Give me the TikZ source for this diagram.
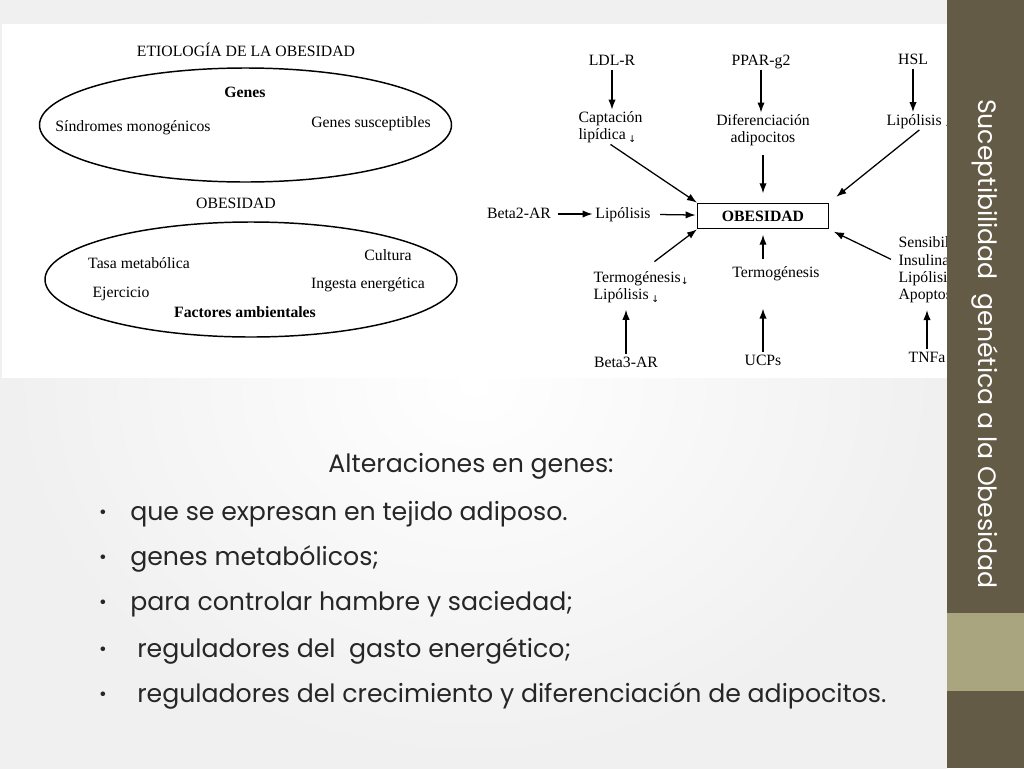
\documentclass[tikz,border=0pt]{standalone}
\usepackage{fontspec}
\setmainfont{Liberation Serif}
\newfontfamily\slidefont{Poppins}
\newfontfamily\symfont{DejaVu Sans}
\usetikzlibrary{positioning,arrows.meta}
\definecolor{sidedark}{RGB}{100,91,70}
\definecolor{sidelight}{RGB}{168,165,127}
\newcommand{\dn}{{\symfont\fontsize{7}{7}\selectfont\raisebox{-2pt}{↓}}}
\tikzset{
  lbl/.style={font=\fontsize{11.8}{13}\selectfont, inner sep=1pt},
  one/.style={lbl, text height=8.5pt, text depth=2.5pt},
  arr/.style={-{Latex[length=7.5pt,width=5.5pt]}, line width=0.95pt},
  obox/.style={draw, line width=1.1pt, minimum width=98pt, minimum height=19pt, font=\fontsize{11.8}{12.7}\selectfont\bfseries},
  item/.style={font=\slidefont\fontsize{18.9}{22}\selectfont, text=black!85, inner sep=0pt, anchor=west}
}
\begin{document}
\begin{tikzpicture}[x=0.75pt,y=-0.75pt]
\useasboundingbox (0,0) rectangle (1024,768);
% slide background
\shade[inner color=white, outer color=black!6] (0,0) rectangle (947,768);
\fill[white] (2,24) rectangle (947,378);

% etiologia (left)
\node[one] (etio) at (246,52) {ETIOLOGÍA DE LA OBESIDAD};
\draw[line width=1.1pt] (245.5,125) ellipse [x radius=206, y radius=57];
\node[one, font=\fontsize{11.8}{12.7}\selectfont\bfseries] (genes) at (245,93) {Genes};
\node[one] (sindr) at (133,127) {Síndromes monogénicos};
\node[one] (gsusc) at (371,123) {Genes susceptibles};
\node[one] (obtit) at (236,204) {OBESIDAD};
\draw[line width=1.1pt] (251,279.5) ellipse [x radius=206, y radius=57.5];
\node[one] (tasa) at (139,264) {Tasa metabólica};
\node[one] (cult) at (388,256) {Cultura};
\node[one] (inges) at (368,284) {Ingesta energética};
\node[one] (ejer) at (121,293) {Ejercicio};
\node[one, font=\fontsize{11.8}{12.7}\selectfont\bfseries] (fact) at (245,313) {Factores ambientales};

% genes -> obesidad (right)
\node[obox] (obes) at (763,216) {OBESIDAD};
\node[one] (ldlr) at (612,61) {LDL-R};
\node[one] (ppar) at (761,61) {PPAR-g2};
\node[one] (hsl) at (913,60) {HSL};
\node[lbl, align=left, anchor=west] (capt) at (577,127) {Captación\\lipídica\,\dn};
\node[lbl, align=center] (dif) at (763,130) {Diferenciación\\adipocitos};
\node[one, anchor=west] (lip1) at (885,121) {Lipólisis\,\dn};
\node[one] (beta2) at (519,214) {Beta2-AR};
\node[one] (lip2) at (623,214) {Lipólisis};
\node[lbl, align=left, anchor=west] (termo1) at (592,287) {Termogénesis\dn\\Lipólisis\,\dn};
\node[one] (termo2) at (776,273) {Termogénesis};
\node[lbl, align=left, anchor=west] (sens) at (897,270) {Sensibil\\Insulina\\Lipólisis\\Apoptos};
\node[one] (beta3) at (626,363) {Beta3-AR};
\node[one] (ucps) at (763,361) {UCPs};
\node[one] (tnfa) at (927,358) {TNFa};

\draw[arr] (ldlr) -- (capt.north -| ldlr);
\draw[arr] (ppar) -- (dif.north -| ppar);
\draw[arr] (hsl) -- (lip1.north -| hsl);
\draw[arr] (capt.south) -- (obes.north west);
\draw[arr, shorten <=6pt, shorten >=7pt] (dif) -- (obes);
\draw[arr, shorten >=7pt] (lip1.south) -- (obes.north east);
\draw[arr, shorten <=4pt, shorten >=1pt] (beta2) -- (lip2);
\draw[arr, shorten <=6pt, shorten >=1pt] (lip2) -- (obes);
\draw[arr] ([xshift=10pt,yshift=6pt]termo1.north) -- (obes.south west);
\draw[arr, shorten >=4pt] ([yshift=4pt]termo2.north -| obes) -- (obes.south);
\draw[arr, shorten >=4pt] ([xshift=-4.5pt,yshift=8pt]sens.west) -- (obes.south east);
\draw[arr, shorten >=4pt] (beta3) -- (termo1.south -| beta3);
\draw[arr, shorten >=20pt] (ucps) -- (termo2.south -| ucps);
\draw[arr, shorten >=4pt] (tnfa) -- (sens.south -| tnfa);

% texto
\node[font=\slidefont\fontsize{18.9}{22}\selectfont, text=black!85] (alt) at (471,466) {Alteraciones en genes:};
\foreach \i/\y/\x/\t in {1/514/130/{que se expresan en tejido adiposo.},
                         2/559/130/{genes metabólicos;},
                         3/604/130/{para controlar hambre y saciedad;},
                         4/651/137/{reguladores del\ \ gasto energético;},
                         5/696/137/{reguladores del crecimiento y diferenciación de adipocitos.}}{
  \node[font=\slidefont\fontsize{14}{14}\selectfont, text=black!85] (dot\i) at (103,\y) {•};
  \node[item] (item\i) at (\x,\y) {\t};
}

% barra lateral
\fill[sidedark] (947,0) rectangle (1024,613);
\fill[sidelight] (947,613) rectangle (1024,691);
\fill[sidedark] (947,691) rectangle (1024,768);
\node[rotate=-90, text=white, font=\slidefont\fontsize{18.9}{20}\selectfont] (title) at (985,344) {Suceptibilidad\ \ genética a la Obesidad};
\end{tikzpicture}
\end{document}
